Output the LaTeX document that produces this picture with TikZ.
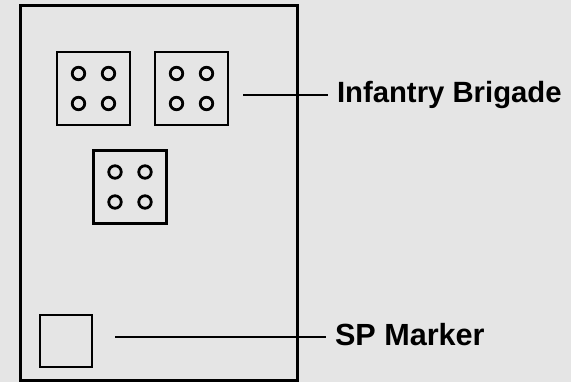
\documentclass[tikz,border=0pt]{standalone}
\usepackage{fontspec}
\setmainfont{Liberation Sans}
\begin{document}
\begin{tikzpicture}[x=1pt,y=-1pt,
  unitbox/.style={draw=black,line width=2.6pt,minimum size=73pt,inner sep=0pt},
  markbox/.style={draw=black,line width=2.6pt,minimum size=52pt,inner sep=0pt},
  ring/.style={draw=black,line width=2.8pt,circle,minimum size=12.5pt,inner sep=0pt},
  leader/.style={draw=black,line width=2.2pt,shorten >=9pt},
  lbl/.style={font=\bfseries\fontsize{#1}{#1}\selectfont,inner sep=0pt,outer sep=0pt,anchor=base west}]
\useasboundingbox (0,0) rectangle (571,382);
\fill[black!10] (0,0) rectangle (571,382);
\draw[line width=3pt] (20,6) rectangle (297,381);
\foreach \n/\x/\y in {b1/93.5/88.5, b2/191.5/88.5, b3/130/187}{
  \node[unitbox] (\n) at (\x,\y) {};
  \node[ring] (\n a) at ([shift={(-15,-15)}]\n.center) {};
  \node[ring] (\n b) at ([shift={(15,-15)}]\n.center) {};
  \node[ring] (\n c) at ([shift={(-15,15)}]\n.center) {};
  \node[ring] (\n d) at ([shift={(15,15)}]\n.center) {};
}
\node[markbox] (sp) at (66,341) {};
\node[lbl=29.3] (ib) at (337,103) {Infantry Brigade};
\node[lbl=30.6] (spl) at (335,346) {SP Marker};
\coordinate (ibs) at (243,95);
\coordinate (sps) at (115,337);
\draw[leader] (ibs) -- (ibs -| ib.west);
\draw[leader] (sps) -- (sps -| spl.west);
\end{tikzpicture}
\end{document}
